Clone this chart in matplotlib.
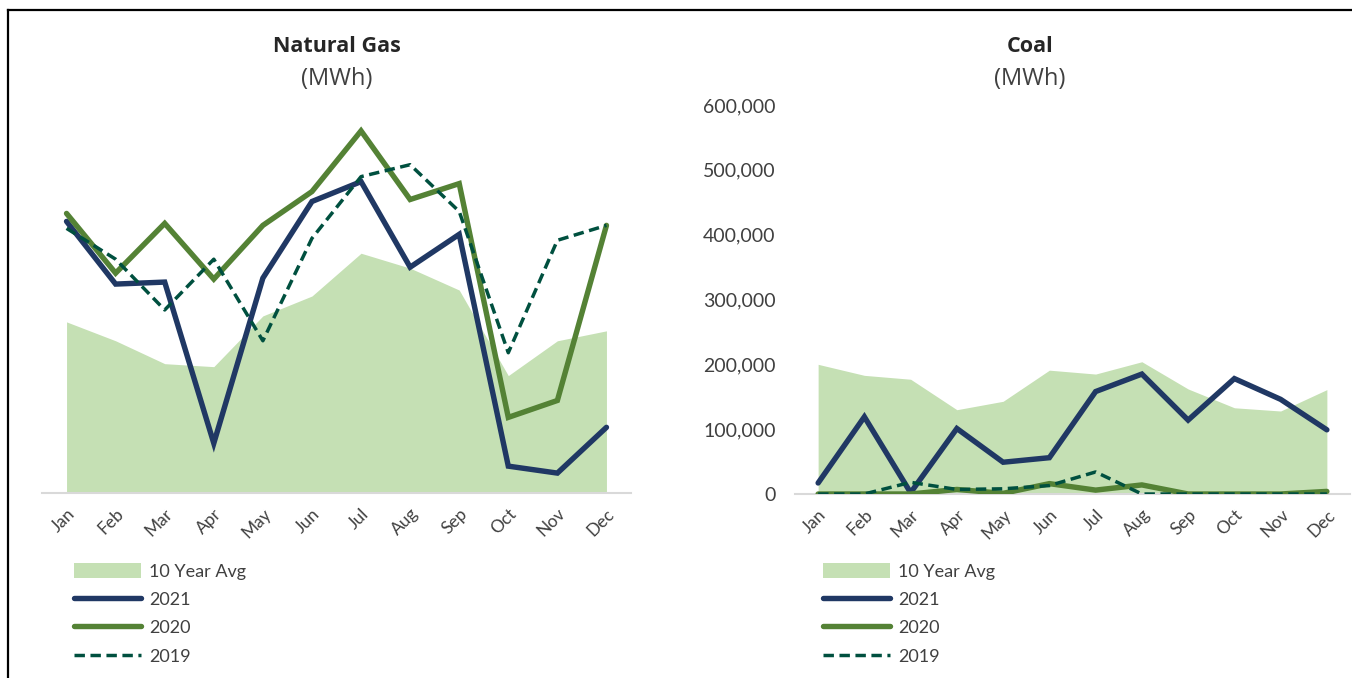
import numpy as np
import matplotlib.pyplot as plt
from matplotlib.lines import Line2D
from matplotlib.patches import Patch

plt.rcParams["font.family"] = ["Lato", "DejaVu Sans"]

# =====================================================
# DATA
# =====================================================

months = ["Jan", "Feb", "Mar", "Apr", "May", "Jun",
          "Jul", "Aug", "Sep", "Oct", "Nov", "Dec"]

gas_avg = [344000, 306000, 260000, 254000, 356000, 396000,
           482000, 452000, 408000, 236000, 306000, 326000]
gas_2021 = [546000, 420000, 424000, 100000, 432000, 586000,
            626000, 454000, 520000, 54000, 40000, 132000]
gas_2020 = [562000, 442000, 542000, 430000, 538000, 606000,
            728000, 590000, 622000, 152000, 186000, 538000]
gas_2019 = [532000, 470000, 368000, 470000, 306000, 512000,
            636000, 660000, 566000, 282000, 508000, 538000]

coal_avg = [200000, 183000, 177000, 130000, 143000, 191000,
            185000, 204000, 162000, 133000, 128000, 161000]
coal_2021 = [17000, 119000, 2000, 101000, 49000, 56000,
             158000, 185000, 114000, 178000, 146000, 99000]
coal_2020 = [0, 0, 0, 7000, 1000, 16000,
             6000, 14000, 0, 0, 0, 4000]
coal_2019 = [0, 0, 18000, 7000, 8000, 13000,
             34000, 0, 0, 0, 0, 0]

NAVY = "#203864"
GREEN = "#548235"
AVG = "#C5E0B4"
TEAL = "#00503F"
TEXT = "#404040"

W, H = 1352, 678


def draw_panel(ax, avg, y21, y20, y19, xlim, ylim):

    x = np.arange(len(months))

    ax.fill_between(x, 0, avg, color=AVG, linewidth=0, zorder=1)
    ax.plot(x, y21, color=NAVY, lw=3.9, solid_capstyle="round",
            solid_joinstyle="miter", zorder=3)
    ax.plot(x, y20, color=GREEN, lw=3.9, solid_capstyle="round",
            solid_joinstyle="miter", zorder=4)
    ax.plot(x, y19, color=TEAL, lw=2.5, dashes=(3.0, 1.6), zorder=5)

    ax.set_xlim(*xlim)
    ax.set_ylim(*ylim)
    ax.set_xticks(x)
    ax.set_xticklabels(months, rotation=45, ha="right",
                       rotation_mode="anchor", fontsize=12.5, color=TEXT)
    ax.tick_params(axis="x", length=0, pad=9)

    for s in ["top", "right", "left"]:
        ax.spines[s].set_visible(False)
    ax.spines["bottom"].set_color("#D9D9D9")
    ax.spines["bottom"].set_linewidth(1.5)

    handles = [
        Patch(facecolor=AVG, edgecolor="none"),
        Line2D([], [], color=NAVY, lw=3.9, solid_capstyle="round"),
        Line2D([], [], color=GREEN, lw=3.9, solid_capstyle="round"),
        Line2D([], [], color=TEAL, lw=2.5, dashes=(3.0, 1.6)),
    ]
    return handles


fig = plt.figure(figsize=(W / 100, H / 100), dpi=100)

# left panel: Natural Gas (no value axis shown)
ax1 = fig.add_axes([42 / W, 1 - 493 / H, 589 / W, 388 / H])
h = draw_panel(ax1, gas_avg, gas_2021, gas_2020, gas_2019,
               (-0.5, 11.5), (0, 780000))
ax1.set_yticks([])

# right panel: Coal
ax2 = fig.add_axes([795 / W, 1 - 494 / H, 555 / W, 389 / H])
draw_panel(ax2, coal_avg, coal_2021, coal_2020, coal_2019,
           (-0.5, 11.5), (0, 600000))
ax2.set_yticks(np.arange(0, 600001, 100000))
ax2.set_yticklabels([f"{v:,}" for v in range(0, 600001, 100000)],
                    fontsize=14, color=TEXT)
ax2.tick_params(axis="y", length=0, pad=14)

labels = ["10 Year Avg", "2021", "2020", "2019"]

for xpix, title in [(337, "Natural Gas"), (1030, "Coal")]:
    fig.text(xpix / W, 1 - 47 / H, title, ha="center", va="center",
             fontsize=15.5, fontweight="bold", color="#262626",
             family=["Open Sans", "DejaVu Sans"])
    fig.text(xpix / W, 1 - 79 / H, "(MWh)", ha="center", va="center",
             fontsize=17, color=TEXT, family=["Open Sans", "DejaVu Sans"])

for xpix in [74, 823]:
    fig.legend(h, labels, loc="upper left",
               bbox_to_anchor=(xpix / W, 1 - 563 / H),
               frameon=False, fontsize=13, handlelength=3.7,
               handleheight=0.9, handletextpad=0.45, labelspacing=0.64,
               borderaxespad=0, borderpad=0, labelcolor=TEXT)

# frame around the slide
fig.add_artist(Line2D([8 / W, 1], [1 - 10 / H, 1 - 10 / H],
                      color="black", lw=1.6))
fig.add_artist(Line2D([8 / W, 8 / W], [0, 1 - 10 / H],
                      color="black", lw=1.6))

plt.savefig("out.png", dpi=100)
